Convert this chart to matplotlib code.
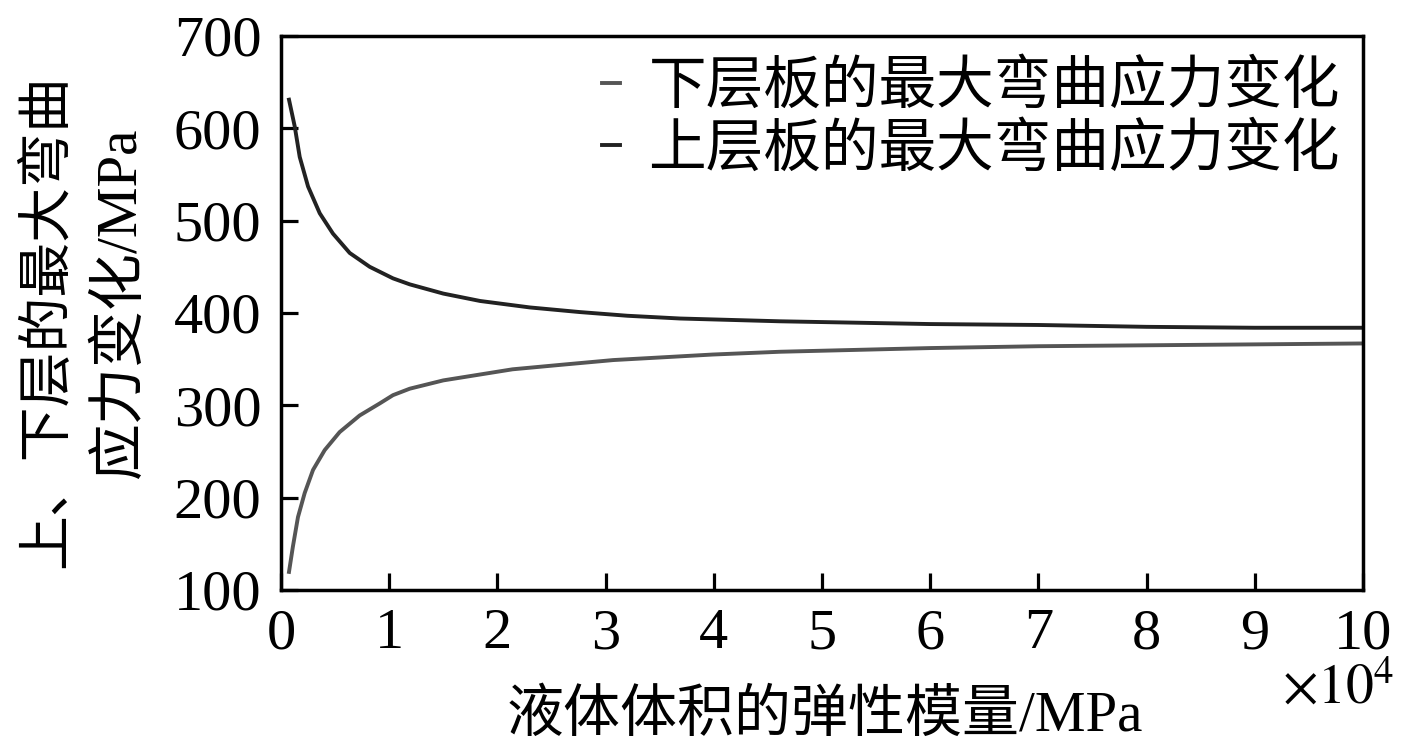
import numpy as np
import matplotlib
matplotlib.use('Agg')
import matplotlib.pyplot as plt

plt.rcParams['font.family'] = ['Liberation Serif', 'Noto Sans CJK SC']
plt.rcParams['mathtext.fontset'] = 'stix'

# values (x in units of 1e4 MPa)
x_upper = [0.074, 0.127, 0.173, 0.25, 0.358, 0.48, 0.635, 0.82, 1.035, 1.19, 1.5, 1.84,
           2.3, 2.76, 3.2, 3.69, 4.61, 6, 7, 8, 9, 10]
y_upper = [631, 602, 569, 537, 508, 486, 465, 450, 437.5, 431, 421, 413,
           406, 401, 397, 394, 391, 388, 387, 385, 384, 384]
x_lower = [0.074, 0.11, 0.157, 0.219, 0.296, 0.404, 0.542, 0.727, 0.912, 1.035, 1.19, 1.5,
           2.14, 2.6, 3.07, 3.99, 4.61, 6, 7, 8, 9, 10]
y_lower = [119.6, 147, 179, 205, 230, 251.5, 271, 289, 302, 311, 318, 327,
           339, 344, 349, 355, 358, 362, 364, 365, 366, 367]

label_lower = '下层板的最大弯曲应力变化'
label_upper = '上层板的最大弯曲应力变化'

fig = plt.figure(figsize=(14.17, 7.51), dpi=100)
ax = fig.add_axes([0.1983, 0.2144, 0.7636, 0.7377])

ax.plot(x_lower, y_lower, color='#555555', lw=2.8, label=label_lower)
ax.plot(x_upper, y_upper, color='#222222', lw=2.8, label=label_upper)

ax.set_xlim(0, 10)
ax.set_ylim(100, 700)
ax.set_xticks(range(0, 11))
ax.set_yticks(range(100, 701, 100))
ax.tick_params(direction='in', length=12.5, width=2.3, labelsize=42, top=False, right=False)
ax.tick_params(axis='y', pad=14)
ax.tick_params(axis='x', pad=13)
for s in ax.spines.values():
    s.set_linewidth(2.5)

leg = ax.legend(loc='upper right', bbox_to_anchor=(1.0, 0.998), frameon=False, fontsize=41.5,
                handlelength=0.3, handletextpad=0.5, labelspacing=0.14, borderaxespad=0)

fig.text(0.582, 0.047, '液体体积的弹性模量/MPa', fontsize=41, ha='center', va='center')
fig.text(0.984, 0.082, r'$\times 10^4$', fontsize=40, ha='right', va='center')
fig.text(0.034, 0.573, '上、下层的最大弯曲', fontsize=39.5, rotation=90, ha='center', va='center')
fig.text(0.085, 0.598, '应力变化/MPa', fontsize=41, rotation=90, ha='center', va='center')

fig.savefig('out.png', dpi=100)
